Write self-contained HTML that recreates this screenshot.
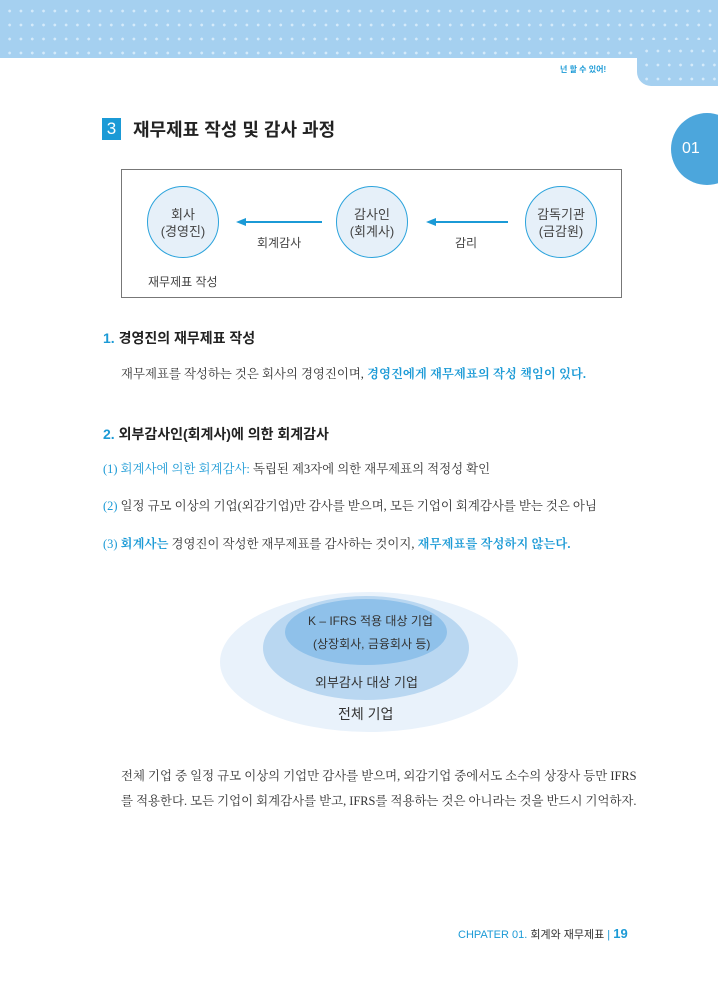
<!DOCTYPE html>
<html><head><meta charset="utf-8"><style>
body{margin:0;width:718px;height:984px;position:relative;background:#fff;overflow:hidden;font-family:"Liberation Sans","Noto Sans CJK KR",sans-serif;color:#333}
.a{position:absolute;white-space:nowrap}
.band{position:absolute;left:0;top:0;width:718px;height:58px;background:#a5d0f0;
background-image:radial-gradient(circle,#d4eafa 1.2px,transparent 1.6px);background-size:11.3px 14px;background-position:4px 4px}
.tab{position:absolute;left:637px;top:40px;width:90px;height:46px;background:#a5d0f0;border-radius:0 0 0 14px;
background-image:radial-gradient(circle,#d4eafa 1.2px,transparent 1.6px);background-size:11.3px 14px;background-position:4px 4px}
.blue{color:#1b9ad6}
.c{position:absolute;width:72px;height:72px;border:1.3px solid #2ba3dc;border-radius:50%;background:#e6f0f9;text-align:center;font-size:13px;line-height:17px;box-sizing:border-box;padding-top:19px;color:#444}
.body{font-size:12.4px;color:#333}
.serif{font-family:"Liberation Serif","Noto Serif CJK KR","Noto Serif CJK SC",serif}
</style></head><body>
<div class="band"></div><div class="tab"></div>
<div class="a" style="left:560px;top:64px;font-size:8px;color:#1b9ad6;font-weight:bold">넌 할 수 있어!</div>
<div class="a" style="left:671px;top:113px;width:72px;height:72px;border-radius:50%;background:#4ca6dc"></div>
<div class="a" style="left:682px;top:140px;font-size:16px;color:#fff">01</div>
<div class="a" style="left:102px;top:118px;width:19px;height:22px;background:#1b9ad6;color:#fff;font-size:17px;text-align:center;line-height:22px">3</div>
<div class="a" style="left:133px;top:116px;font-size:18px;font-weight:bold;color:#222">재무제표 작성 및 감사 과정</div>
<div class="a" style="left:121px;top:169px;width:501px;height:129px;border:1.3px solid #777;box-sizing:border-box"></div>
<div class="c" style="left:147px;top:186px">회사<br>(경영진)</div>
<div class="c" style="left:336px;top:186px">감사인<br>(회계사)</div>
<div class="c" style="left:525px;top:186px">감독기관<br>(금감원)</div>
<svg class="a" style="left:0;top:0" width="718" height="300">
<line x1="322" y1="222" x2="242" y2="222" stroke="#1b9ad6" stroke-width="2"/><polygon points="236,222 246,218 246,226" fill="#1b9ad6"/>
<line x1="508" y1="222" x2="432" y2="222" stroke="#1b9ad6" stroke-width="2"/><polygon points="426,222 436,218 436,226" fill="#1b9ad6"/>
</svg>
<div class="a" style="left:257px;top:234px;font-size:12px;color:#444">회계감사</div>
<div class="a" style="left:455px;top:234px;font-size:12px;color:#444">감리</div>
<div class="a" style="left:148px;top:273px;font-size:12px;color:#444">재무제표 작성</div>
<div class="a" style="left:103px;top:328px;font-size:14px;font-weight:bold;color:#222"><span class="blue">1.</span> 경영진의 재무제표 작성</div>
<div class="a body serif" style="left:121px;top:364px">재무제표를 작성하는 것은 회사의 경영진이며, <b class="blue">경영진에게 재무제표의 작성 책임이 있다.</b></div>
<div class="a" style="left:103px;top:424px;font-size:14px;font-weight:bold;color:#222"><span class="blue">2.</span> 외부감사인(회계사)에 의한 회계감사</div>
<div class="a body serif" style="left:103px;top:459px"><span class="blue">(1) 회계사에 의한 회계감사:</span> 독립된 제3자에 의한 재무제표의 적정성 확인</div>
<div class="a body serif" style="left:103px;top:496px"><span class="blue">(2)</span> 일정 규모 이상의 기업(외감기업)만 감사를 받으며, 모든 기업이 회계감사를 받는 것은 아님</div>
<div class="a body serif" style="left:103px;top:534px"><span class="blue">(3) <b>회계사는</b></span> 경영진이 작성한 재무제표를 감사하는 것이지, <b class="blue">재무제표를 작성하지 않는다.</b></div>
<svg class="a" style="left:0;top:580px" width="718" height="170">
<ellipse cx="369" cy="82" rx="149" ry="70" fill="#e9f2fb"/>
<ellipse cx="366" cy="68" rx="103" ry="52" fill="#b9d7f1"/>
<ellipse cx="366" cy="52" rx="81" ry="33" fill="#8fc1ea"/>
</svg>
<div class="a" style="left:308px;top:612px;font-size:12px;color:#333">K – IFRS 적용 대상 기업</div>
<div class="a" style="left:313px;top:635px;font-size:12px;color:#333">(상장회사, 금융회사 등)</div>
<div class="a" style="left:315px;top:672px;font-size:13px;color:#333">외부감사 대상 기업</div>
<div class="a" style="left:338px;top:704px;font-size:14px;color:#333">전체 기업</div>
<div class="a body serif" style="left:121px;top:766px">전체 기업 중 일정 규모 이상의 기업만 감사를 받으며, 외감기업 중에서도 소수의 상장사 등만 IFRS</div>
<div class="a body serif" style="left:121px;top:791px">를 적용한다. 모든 기업이 회계감사를 받고, IFRS를 적용하는 것은 아니라는 것을 반드시 기억하자.</div>
<div class="a" style="left:458px;top:926px;font-size:11px;color:#333"><span class="blue">CHPATER 01.</span> 회계와 재무제표 <span class="blue">|</span> <b class="blue" style="font-size:13px">19</b></div>
</body></html>
